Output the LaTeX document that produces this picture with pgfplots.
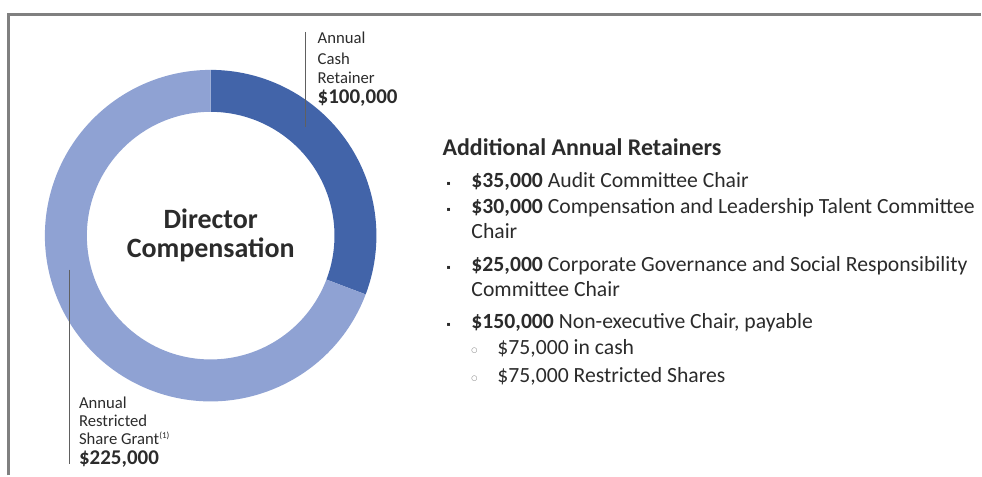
\documentclass[border=0pt]{standalone}
\usepackage{pgfplots}
\usepackage{pgfplotstable}
\usepackage{fontspec}
\pgfplotsset{compat=1.18}
\setmainfont{Carlito}
\newfontfamily\symfont{DejaVu Sans}

\definecolor{cashblue}{HTML}{4264A9}
\definecolor{sharesblue}{HTML}{8FA2D3}
\definecolor{txt}{HTML}{2B2B2B}
\definecolor{frame}{HTML}{808080}

% donut values, thousands of $
\pgfplotstableread{
label  value
cash   100
shares 225
}\donutdata

\newcommand{\fs}[1]{\fontsize{#1}{#1}\selectfont}

\begin{document}
\begin{tikzpicture}
\pgfplotstablegetelem{0}{value}\of\donutdata \let\cashval\pgfplotsretval
\pgfplotstablegetelem{1}{value}\of\donutdata \let\shareval\pgfplotsretval
\pgfmathsetmacro\angA{360*(\cashval/(\cashval+\shareval))}
\begin{axis}[
    x=1pt, y=1pt, y dir=reverse,
    xmin=0, xmax=982, ymin=0, ymax=476,
    hide axis, scale only axis, clip=false,
]
\path (rel axis cs:0,0) rectangle (rel axis cs:1,1);

% frame
\draw[frame, line width=3pt] (axis cs:8.5,476) -- (axis cs:8.5,14.5) -- (axis cs:982,14.5);

% donut
\begin{scope}[shift={(axis cs:211,236)}]
\fill[cashblue] (90:166pt) arc[start angle=90, end angle={90-\angA}, radius=166pt]
    -- ({90-\angA}:124pt) arc[start angle={90-\angA}, end angle=90, radius=124pt] -- cycle;
\fill[sharesblue] ({90-\angA}:166pt) arc[start angle={90-\angA}, end angle=-270, radius=166pt]
    -- (-270:124pt) arc[start angle=-270, end angle={90-\angA}, radius=124pt] -- cycle;
\end{scope}

% centre title
\node[txt, anchor=base, inner sep=0, font=\fs{28}\bfseries] at (axis cs:211,229) {Director};
\node[txt, anchor=base, inner sep=0, font=\fs{28}\bfseries] at (axis cs:211,258) {Compensation};

% leader lines
\draw[txt!75, line width=1.2pt] (axis cs:306,32) -- (axis cs:306,127);
\draw[txt!75, line width=1.2pt] (axis cs:70,270) -- (axis cs:70,465);

% top label
\begin{scope}[every node/.style={txt, anchor=base west, inner sep=0, font=\fs{16.7}}]
\node at (axis cs:318,44) {Annual};
\node at (axis cs:318,65) {Cash};
\node at (axis cs:318,84) {Retainer};
\node[font=\fs{21}\bfseries] at (axis cs:318,104) {\$100,000};
% bottom label
\node at (axis cs:79,409) {Annual};
\node at (axis cs:79,427) {Restricted};
\node at (axis cs:79,445) {Share Grant\textsuperscript{\fs{9}(1)}};
\node[font=\fs{21}\bfseries] at (axis cs:79,465) {\$225,000};
\end{scope}

% retainer list
\begin{scope}[every node/.style={txt, anchor=base west, inner sep=0, font=\fs{21.7}}]
\node[font=\fs{24}\bfseries] at (axis cs:443,156) {Additional Annual Retainers};
\node at (axis cs:447,186) {\symfont\fs{6}▪};
\node at (axis cs:472,188) {\textbf{\$35,000} Audit Committee Chair};
\node at (axis cs:447,212) {\symfont\fs{6}▪};
\node at (axis cs:472,214) {\textbf{\$30,000} Compensation and Leadership Talent Committee};
\node at (axis cs:472,239) {Chair};
\node at (axis cs:447,270) {\symfont\fs{6}▪};
\node at (axis cs:472,272) {\textbf{\$25,000} Corporate Governance and Social Responsibility};
\node at (axis cs:472,297) {Committee Chair};
\node at (axis cs:447,327) {\symfont\fs{6}▪};
\node at (axis cs:472,329) {\textbf{\$150,000} Non-executive Chair, payable};
\node at (axis cs:472,353) {\symfont\fs{7}\color{txt!65}○};
\node at (axis cs:498,355) {\$75,000 in cash};
\node at (axis cs:472,381) {\symfont\fs{7}\color{txt!65}○};
\node at (axis cs:498,383) {\$75,000 Restricted Shares};
\end{scope}
\end{axis}
\end{tikzpicture}
\end{document}
